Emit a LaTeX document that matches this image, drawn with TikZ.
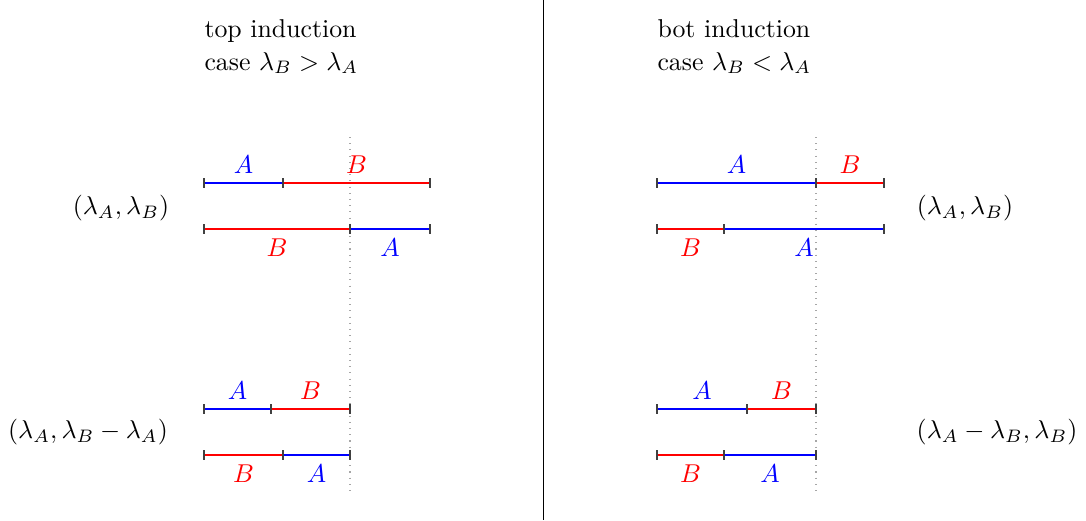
\documentclass[tikz,border=0pt]{standalone}
\begin{document}
\begin{tikzpicture}[x=0.3875pt,y=-0.3875pt,
  seg/.style={line width=0.7pt},
  segA/.style={seg,blue},
  segB/.style={seg,red},
  tickmark/.style={line width=0.4pt,black!75},
  guide/.style={dotted,gray!70,line width=0.4pt},
  lblA/.style={text=blue,inner sep=0pt},
  lblB/.style={text=red,inner sep=0pt},
  up/.style={yshift=7.2pt},
  down/.style={yshift=-7.4pt},
  txt/.style={inner sep=0pt}]
\useasboundingbox (0,0) rectangle (1086,520);
% separator
\coordinate (s1) at (543,0); \coordinate (s2) at (543,520);
\draw[line width=0.3pt] (s1) -- (s2);
% headers
\node[txt,anchor=base west] (h1a) at (204,37) {top induction};
\node[txt,anchor=base west] (h1b) at (204,70) {case $\lambda_B>\lambda_A$};
\node[txt,anchor=base west] (h2a) at (657,37) {bot induction};
\node[txt,anchor=base west] (h2b) at (657,70) {case $\lambda_B<\lambda_A$};
% guides
\coordinate (g1t) at (350,137); \coordinate (g1b) at (350,495);
\coordinate (g2t) at (816,137); \coordinate (g2b) at (816,495);
\draw[guide] (g1t) -- (g1b);
\draw[guide] (g2t) -- (g2b);
% pair labels
\node[txt] (p1) at (121,208) {$(\lambda_A,\lambda_B)$};
\node[txt] (p2) at (965,208) {$(\lambda_A,\lambda_B)$};
\node[txt] (p3) at (88,432) {$(\lambda_A,\lambda_B-\lambda_A)$};
\node[txt] (p4) at (997,432) {$(\lambda_A-\lambda_B,\lambda_B)$};
% ---- top-left
\coordinate (a0) at (204,183); \coordinate (a1) at (283,183); \coordinate (a2) at (430,183);
\coordinate (b0) at (204,229); \coordinate (b1) at (350,229); \coordinate (b2) at (430,229);
\draw[segA] (a0) -- node[lblA,up] (la1) {$A$} (a1);
\draw[segB] (a1) -- node[lblB,up] (la2) {$B$} (a2);
\draw[segB] (b0) -- node[lblB,down] (lb1) {$B$} (b1);
\draw[segA] (b1) -- node[lblA,down] (lb2) {$A$} (b2);
% ---- top-right
\coordinate (c0) at (657,183); \coordinate (c1) at (816,183); \coordinate (c2) at (884,183);
\coordinate (d0) at (657,229); \coordinate (d1) at (724,229); \coordinate (d2) at (884,229);
\draw[segA] (c0) -- node[lblA,up] (lc1) {$A$} (c1);
\draw[segB] (c1) -- node[lblB,up] (lc2) {$B$} (c2);
\draw[segB] (d0) -- node[lblB,down] (ld1) {$B$} (d1);
\draw[segA] (d1) -- node[lblA,down] (ld2) {$A$} (d2);
% ---- bottom-left
\coordinate (e0) at (204,409); \coordinate (e1) at (271,409); \coordinate (e2) at (350,409);
\coordinate (f0) at (204,455); \coordinate (f1) at (283,455); \coordinate (f2) at (350,455);
\draw[segA] (e0) -- node[lblA,up] (le1) {$A$} (e1);
\draw[segB] (e1) -- node[lblB,up] (le2) {$B$} (e2);
\draw[segB] (f0) -- node[lblB,down] (lf1) {$B$} (f1);
\draw[segA] (f1) -- node[lblA,down] (lf2) {$A$} (f2);
% ---- bottom-right
\coordinate (h0) at (657,409); \coordinate (h1c) at (747,409); \coordinate (h2c) at (816,409);
\coordinate (k0) at (657,455); \coordinate (k1) at (724,455); \coordinate (k2) at (816,455);
\draw[segA] (h0) -- node[lblA,up] (lh1) {$A$} (h1c);
\draw[segB] (h1c) -- node[lblB,up] (lh2) {$B$} (h2c);
\draw[segB] (k0) -- node[lblB,down] (lk1) {$B$} (k1);
\draw[segA] (k1) -- node[lblA,down] (lk2) {$A$} (k2);
% ticks
\foreach \p in {a0,a1,a2,b0,b1,b2,c0,c1,c2,d0,d1,d2,e0,e1,e2,f0,f1,f2,h0,h1c,h2c,k0,k1,k2}
  \draw[tickmark] (\p) ++(0,-5) -- ++(0,10);
\end{tikzpicture}
\end{document}
